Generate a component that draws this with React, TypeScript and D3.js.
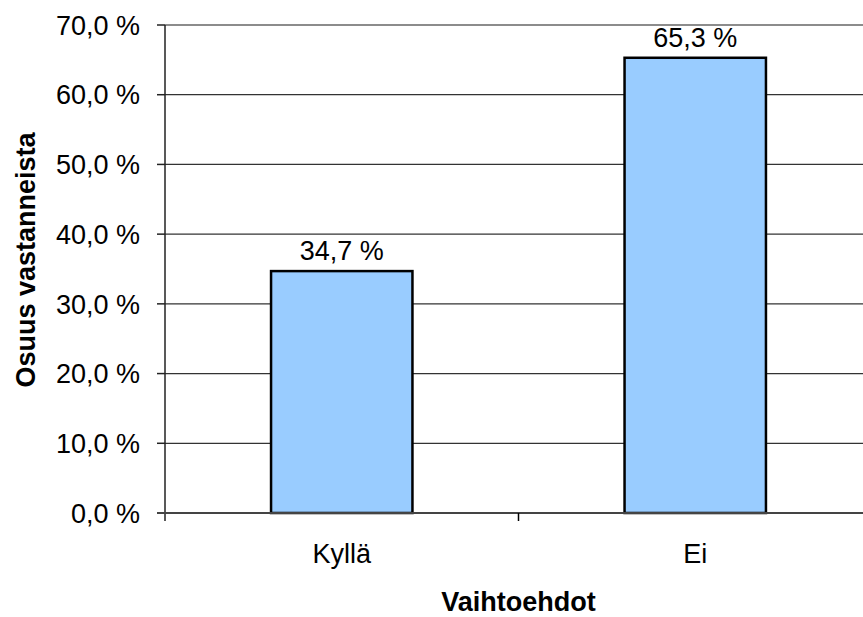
import { useEffect, useRef } from "react";
import * as d3 from "d3";

const categories = ["Kyllä", "Ei"];
const values = [34.7, 65.3];
const yTicks = [0, 10, 20, 30, 40, 50, 60, 70];

const W = 863;
const H = 617;
const MARGIN = { top: 25, right: -9, bottom: 104, left: 165 };
const FONT = "Liberation Sans, Arial, sans-serif";
const FS = 27;

const fmt = (v: number) => `${v.toFixed(1).replace(".", ",")} %`;

export default function App() {
  const svgRef = useRef<SVGSVGElement>(null);

  useEffect(() => {
    if (!svgRef.current) return;
    const svg = d3.select(svgRef.current);
    svg.selectAll("*").remove();

    const innerW = W - MARGIN.left - MARGIN.right;
    const innerH = H - MARGIN.top - MARGIN.bottom;

    const x = d3.scaleBand().domain(categories).range([0, innerW]).paddingInner(0.6).paddingOuter(0.3);
    const xb = d3.scaleBand().domain(categories).range([0, innerW]);
    const y = d3.scaleLinear().domain([0, 70]).range([innerH, 0]);

    const g = svg.append("g").attr("transform", `translate(${MARGIN.left},${MARGIN.top})`);

    // gridlines
    yTicks.slice(1).forEach((t) => {
      g.append("line")
        .attr("x1", 0)
        .attr("x2", innerW)
        .attr("y1", y(t))
        .attr("y2", y(t))
        .attr("stroke", t === 70 ? "#8c8c8c" : "#333")
        .attr("stroke-width", t === 70 ? 2 : 1.3);
    });

    // bars
    categories.forEach((c, i) => {
      g.append("rect")
        .attr("x", x(c)!)
        .attr("y", y(values[i]))
        .attr("width", x.bandwidth())
        .attr("height", innerH - y(values[i]))
        .attr("fill", "#99ccff")
        .attr("stroke", "#000")
        .attr("stroke-width", 2.5);
      g.append("text")
        .attr("x", x(c)! + x.bandwidth() / 2)
        .attr("y", y(values[i]) - 11)
        .attr("text-anchor", "middle")
        .attr("font-family", FONT)
        .attr("font-size", FS)
        .text(fmt(values[i]));
    });

    // y axis
    g.append("line")
      .attr("x1", 0)
      .attr("x2", 0)
      .attr("y1", 0)
      .attr("y2", innerH + 8)
      .attr("stroke", "#222")
      .attr("stroke-width", 1.5);
    yTicks.forEach((t) => {
      g.append("line")
        .attr("x1", -8)
        .attr("x2", 0)
        .attr("y1", y(t))
        .attr("y2", y(t))
        .attr("stroke", "#222")
        .attr("stroke-width", 1.5);
      g.append("text")
        .attr("x", -25)
        .attr("y", y(t))
        .attr("dy", "0.36em")
        .attr("text-anchor", "end")
        .attr("font-family", FONT)
        .attr("font-size", FS)
        .text(fmt(t));
    });

    // x axis
    g.append("line")
      .attr("x1", -8)
      .attr("x2", innerW)
      .attr("y1", innerH)
      .attr("y2", innerH)
      .attr("stroke", "#444")
      .attr("stroke-width", 2);
    categories.forEach((c, i) => {
      if (i > 0) {
        g.append("line")
          .attr("x1", xb(c)!)
          .attr("x2", xb(c)!)
          .attr("y1", innerH)
          .attr("y2", innerH + 8)
          .attr("stroke", "#000")
          .attr("stroke-width", 1.5);
      }
      g.append("text")
        .attr("x", x(c)! + x.bandwidth() / 2)
        .attr("y", innerH + 50)
        .attr("text-anchor", "middle")
        .attr("font-family", FONT)
        .attr("font-size", FS)
        .text(c);
    });

    // titles
    svg.append("text")
      .attr("x", MARGIN.left + xb.step())
      .attr("y", 611)
      .attr("text-anchor", "middle")
      .attr("font-family", FONT)
      .attr("font-size", FS)
      .attr("font-weight", "bold")
      .text("Vaihtoehdot");

    svg.append("text")
      .attr("transform", `translate(35,260) rotate(-90)`)
      .attr("text-anchor", "middle")
      .attr("font-family", FONT)
      .attr("font-size", FS)
      .attr("font-weight", "bold")
      .text("Osuus vastanneista");
  }, []);

  return (
    <svg
      ref={svgRef}
      width={W}
      height={H}
      style={{ position: "absolute", left: 0, top: 0, background: "#fff" }}
    />
  );
}
